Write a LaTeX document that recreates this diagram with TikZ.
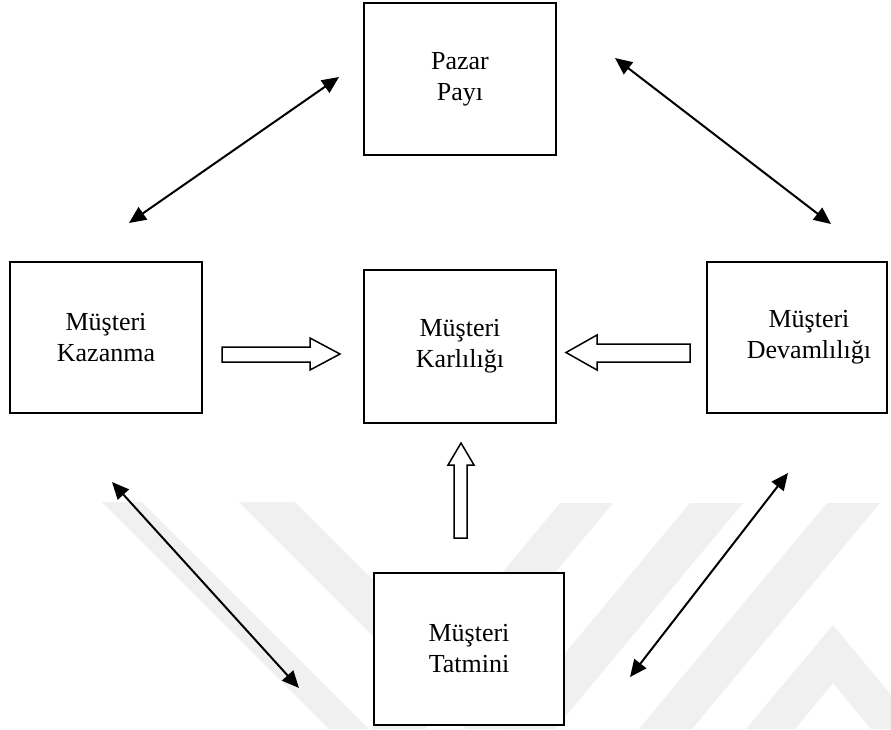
\documentclass[tikz,border=0pt]{standalone}
\usepackage{fontspec}
\setmainfont{Liberation Serif}
\usetikzlibrary{arrows.meta}
\begin{document}
\begin{tikzpicture}[x=1pt,y=-1pt,
  box/.style={draw,line width=2pt,fill=white,inner sep=0pt,align=center,
    font=\fontsize{26}{31}\selectfont},
  boxtext/.style={inner sep=0pt,align=center,font=\fontsize{26}{31}\selectfont},
  link/.style={line width=2pt,
    {Triangle[length=17pt,width=15pt]}-{Triangle[length=17pt,width=15pt]}},
  hollow/.style={draw,line width=1.5pt,fill=white,line join=miter},
  wmark/.style={fill=gray!12}]
\useasboundingbox (0,0) rectangle (891,729);
\fill[white] (0,0) rectangle (891,729);

% faint background emblem
\fill[wmark] (102,502) -- (142,502) -- (369,729) -- (329,729) -- cycle;
\fill[wmark] (239,502) -- (295,502) -- (522,729) -- (466,729) -- cycle;
\fill[wmark] (560,503) -- (613,503) -- (425,729) -- (372,729) -- cycle;
\fill[wmark] (690,503) -- (743,503) -- (555,729) -- (502,729) -- cycle;
\fill[wmark] (827,503) -- (880,503) -- (692,729) -- (639,729) -- cycle;
\fill[wmark] (833,625) -- (891,695) -- (891,729) -- (871,729) -- (833,683)
  -- (795,729) -- (746,729) -- cycle;

% boxes
\node[box,minimum width=192pt,minimum height=152pt] (pazar) at (460,79) {Pazar\\Payı};
\node[box,minimum width=192pt,minimum height=151pt] (kaz) at (106,337.5) {Müşteri\\Kazanma};
\node[box,minimum width=192pt,minimum height=153pt] (karl) at (460,346.5) {Müşteri\\Karlılığı};
\node[box,minimum width=180pt,minimum height=151pt] (dev) at (797,337.5) {};
\node[boxtext] (devtext) at (809,337.5) {Müşteri\\Devamlılığı};
\node[box,minimum width=190pt,minimum height=152pt] (tat) at (469,649) {Müşteri\\Tatmini};

% two-way links between the outer boxes
\coordinate (a1) at (129,223);  \coordinate (a2) at (339,77);
\coordinate (b1) at (615,58);   \coordinate (b2) at (831,224);
\coordinate (c1) at (112,482);  \coordinate (c2) at (299,688);
\coordinate (d1) at (788,473);  \coordinate (d2) at (630,677);
\draw[link] (a1) -- (a2);
\draw[link] (b1) -- (b2);
\draw[link] (c1) -- (c2);
\draw[link] (d1) -- (d2);

% hollow block arrows into the centre box
\draw[hollow] (222,347) -- (310,347) -- (310,338) -- (340,354) -- (310,370)
  -- (310,362) -- (222,362) -- cycle;
\draw[hollow] (690,344) -- (597,344) -- (597,335) -- (566,352.5) -- (597,370)
  -- (597,362) -- (690,362) -- cycle;
\draw[hollow] (454,538) -- (454,465) -- (448,465) -- (461,443) -- (474,465)
  -- (467,465) -- (467,538) -- cycle;
\end{tikzpicture}
\end{document}
